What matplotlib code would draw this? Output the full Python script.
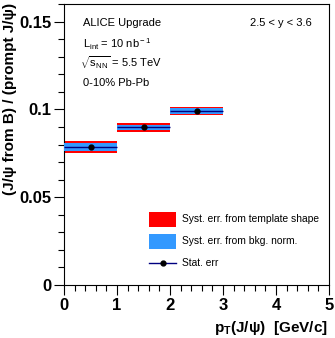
import numpy as np
import matplotlib
matplotlib.use('Agg')
import matplotlib.pyplot as plt
from matplotlib.patches import Rectangle
from matplotlib.lines import Line2D

plt.rcParams['font.family'] = ['Liberation Sans', 'DejaVu Sans']
plt.rcParams['mathtext.fontset'] = 'custom'
plt.rcParams['mathtext.rm'] = 'Liberation Sans'
plt.rcParams['mathtext.it'] = 'Liberation Sans:italic'
plt.rcParams['mathtext.bf'] = 'Liberation Sans:bold'

# bins in pT (GeV/c)
pt_lo = [0, 1, 2]
pt_hi = [1, 2, 3]
# non-prompt / prompt J/psi ratio
ratio = [0.0786, 0.0898, 0.0990]
stat_err = [0.0003, 0.0003, 0.0003]
syst_shape = [0.0036, 0.0024, 0.0023]
syst_bkg = [0.0023, 0.0015, 0.0015]

red = '#ff0000'
blue = '#3399ff'
navy = '#000080'

W, H = 335, 338
fig = plt.figure(figsize=(W/100, H/100), dpi=100)
ax = fig.add_axes([64/W, 1 - 285/H, 265/W, 281/H])

for lo, hi, r, s1, s2 in zip(pt_lo, pt_hi, ratio, syst_shape, syst_bkg):
    ax.add_patch(Rectangle((lo, r - s1), hi - lo, 2*s1, facecolor=red, edgecolor='none', zorder=2))
    ax.add_patch(Rectangle((lo, r - s2), hi - lo, 2*s2, facecolor=blue, edgecolor='none', zorder=3))

xc = [(a + b) / 2 for a, b in zip(pt_lo, pt_hi)]
xw = [(b - a) / 2 for a, b in zip(pt_lo, pt_hi)]
ax.errorbar(xc, ratio, xerr=xw, yerr=stat_err, fmt='o', color='black', ecolor=navy,
            elinewidth=1.0, markersize=3.5, capsize=0, zorder=4)

ax.set_xlim(0, 5)
ax.set_ylim(0, 0.16)
ax.set_xticks([0, 1, 2, 3, 4, 5])
ax.set_xticks(np.arange(0, 5.01, 0.2), minor=True)
ax.set_yticks([0, 0.05, 0.1, 0.15])
ax.set_yticklabels(['0', '0.05', '0.1', '0.15'])
ax.set_yticks(np.arange(0, 0.1601, 0.01), minor=True)
ax.tick_params(which='both', direction='out', top=False, right=False,
               labelsize=12, width=0.8)
ax.tick_params(which='major', length=7)
ax.tick_params(which='minor', length=4)
for lab in ax.get_xticklabels() + ax.get_yticklabels():
    lab.set_fontweight('bold')
ax.tick_params(axis='x', pad=2)
ax.tick_params(axis='y', pad=2)

fig.text(10/W, 1 - 3/H, '(J/ψ from B) / (prompt J/ψ)', rotation=90,
         ha='center', va='top', fontsize=11, fontweight='bold')
fig.text(328/W, 1 - 328/H, r'p$_{\mathbf{T}}$(J/ψ)  [GeV/c]', ha='right', va='center',
         fontsize=11, fontweight='bold')

fs = 8
fig.text(83/W, 1 - 23/H, 'ALICE Upgrade', fontsize=fs, va='center')
fig.text(83/W, 1 - 44/H, r'L$_{\rm int}$ = 10 nb$^{\rm -1}$', fontsize=fs, va='center')
fig.text(80/W, 1 - 63/H, r'$\sqrt{\rm s_{NN}}$ = 5.5 TeV', fontsize=fs, va='center')
fig.text(83/W, 1 - 83/H, '0-10% Pb-Pb', fontsize=fs, va='center')
fig.text(312/W, 1 - 23/H, '2.5 < y < 3.6', fontsize=fs, va='center', ha='right')

# legend, drawn by hand in figure pixels
lfs = 7.4
fig.add_artist(Rectangle((149/W, 1 - 227/H), 27/W, 15/H, facecolor=red, edgecolor='none',
                         transform=fig.transFigure))
fig.add_artist(Rectangle((149/W, 1 - 249/H), 27/W, 15/H, facecolor=blue, edgecolor='none',
                         transform=fig.transFigure))
fig.add_artist(Line2D([149/W, 176/W], [1 - 263/H, 1 - 263/H], color=navy, lw=1,
                      transform=fig.transFigure))
fig.add_artist(Line2D([162.5/W], [1 - 263/H], marker='o', markersize=3.5, color='black',
                      transform=fig.transFigure))
fig.text(182/W, 1 - 219.5/H, 'Syst. err. from template shape', fontsize=lfs, va='center')
fig.text(182/W, 1 - 241.5/H, 'Syst. err. from bkg. norm.', fontsize=lfs, va='center')
fig.text(182/W, 1 - 263/H, 'Stat. err', fontsize=lfs, va='center')

fig.savefig('out.png', dpi=100)
